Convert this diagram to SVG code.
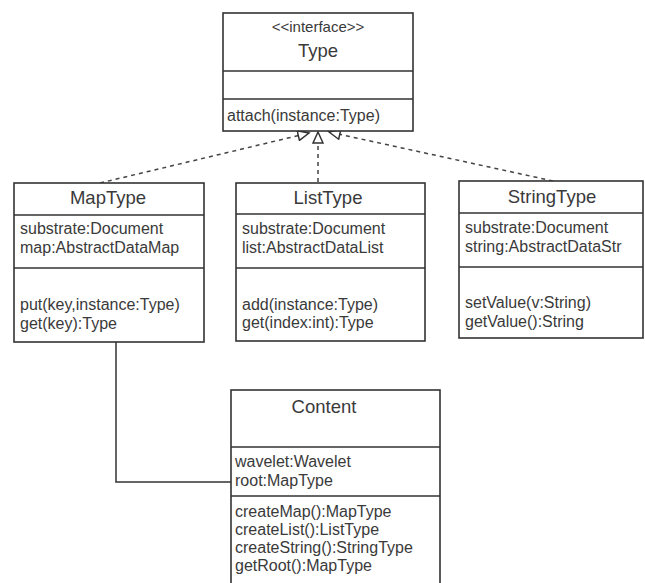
<svg xmlns="http://www.w3.org/2000/svg" width="645" height="583" viewBox="0 0 645 583">
<style>
.box{fill:#fff;stroke:#333;stroke-width:1.6}
.div{stroke:#333;stroke-width:1.6;fill:none}
text{font-family:"Liberation Sans",Arial,sans-serif;fill:#3a3a3a;font-size:16px}
.t{font-size:18.5px;text-anchor:middle}
.s{font-size:15px;text-anchor:middle}
.dash{fill:none;stroke:#444;stroke-width:1.5;stroke-dasharray:4 4}
.solid{fill:none;stroke:#333;stroke-width:1.5}
</style>
<defs>
<marker id="tri" markerUnits="userSpaceOnUse" markerWidth="14" markerHeight="12" refX="11" refY="5" orient="auto" viewBox="-1 -1 14 12">
<path d="M0,0 L11,5 L0,10 z" fill="#fff" stroke="#333" stroke-width="1.5"/>
</marker>
</defs>
<rect width="645" height="583" fill="#fff"/>
<g id="connectors">
<path class="dash" d="M100,183 L309,133" marker-end="url(#tri)"/>
<path class="dash" d="M318,182 L318,132" marker-end="url(#tri)"/>
<path class="dash" d="M553,181 L329,132" marker-end="url(#tri)"/>
<path class="solid" d="M116,342 L116,482 L231,482"/>
</g>
<g id="Type">
<rect class="box" x="223" y="13" width="190" height="118"/>
<path class="div" d="M223,71 H413 M223,99 H413"/>
<text class="s" x="318" y="32">&lt;&lt;interface&gt;&gt;</text>
<text class="t" x="318" y="57">Type</text>
<text x="227" y="121">attach(instance:Type)</text>
</g>
<g id="MapType">
<rect class="box" x="14" y="183" width="190" height="159"/>
<path class="div" d="M14,215 H204 M14,268 H204"/>
<text class="t" x="108" y="204">MapType</text>
<text x="20" y="234">substrate:Document</text>
<text x="20" y="253">map:AbstractDataMap</text>
<text x="20" y="310">put(key,instance:Type)</text>
<text x="20" y="329">get(key):Type</text>
</g>
<g id="ListType">
<rect class="box" x="236" y="183" width="189" height="158"/>
<path class="div" d="M236,214 H425 M236,268 H425"/>
<text class="t" x="328" y="204">ListType</text>
<text x="242" y="234">substrate:Document</text>
<text x="242" y="253">list:AbstractDataList</text>
<text x="242" y="310">add(instance:Type)</text>
<text x="242" y="328">get(index:int):Type</text>
</g>
<g id="StringType">
<rect class="box" x="459" y="181" width="184" height="157"/>
<path class="div" d="M459,213 H643 M459,267 H643"/>
<text class="t" x="552" y="203">StringType</text>
<text x="465" y="233">substrate:Document</text>
<text x="465" y="252">string:AbstractDataStr</text>
<text x="465" y="308">setValue(v:String)</text>
<text x="465" y="327">getValue():String</text>
</g>
<g id="Content">
<rect class="box" x="231" y="390" width="209" height="200"/>
<path class="div" d="M231,447 H440 M231,496 H440"/>
<text class="t" x="324" y="413">Content</text>
<text x="235" y="467">wavelet:Wavelet</text>
<text x="235" y="486">root:MapType</text>
<text x="235" y="517">createMap():MapType</text>
<text x="235" y="535">createList():ListType</text>
<text x="235" y="553">createString():StringType</text>
<text x="235" y="571">getRoot():MapType</text>
</g>
</svg>
